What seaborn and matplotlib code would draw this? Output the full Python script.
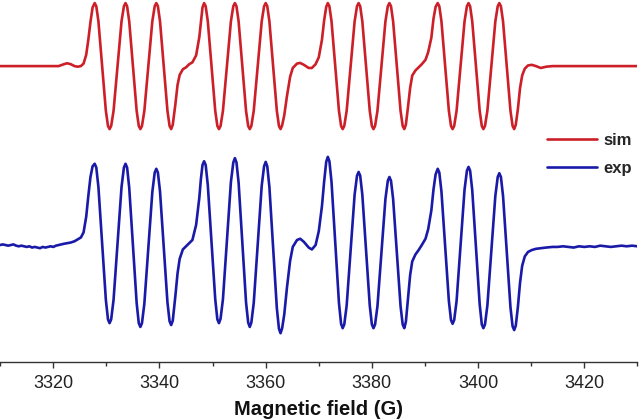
import matplotlib
matplotlib.use("Agg")
import matplotlib.pyplot as plt
import pandas as pd
import seaborn as sns
from matplotlib.ticker import MultipleLocator

# ---- data (field in G, intensity in arbitrary units) ----
field = [
    # left baseline
    3310.0, 3310.5, 3311.0, 3311.5, 3312.0, 3312.5, 3313.0, 3313.5, 3314.0, 3314.5, 3315.0,
    3315.5, 3316.0, 3316.5, 3317.0, 3317.5, 3318.0, 3318.5, 3319.0, 3319.5, 3320.0, 3320.5,
    # leading edge
    3321.0, 3322.0, 3322.6, 3323.3, 3324.0, 3324.6, 3325.2, 3325.7, 3326.2, 3326.6, 3327.0, 3327.4,
    # group A
    3327.8, 3328.1, 3328.5, 3329.2, 3329.9, 3330.3, 3330.6, 3330.9, 3331.35, 3332.1, 3332.85,
    3333.3, 3333.6, 3333.9, 3334.3, 3335.0, 3335.7, 3336.1, 3336.4, 3336.7, 3337.15, 3337.9,
    3338.65, 3339.1, 3339.4, 3339.7, 3340.1, 3340.8, 3341.5, 3341.9, 3342.2,
    # between A and B
    3342.5, 3343.0, 3343.4, 3343.8, 3344.4, 3345.0, 3345.6, 3346.2, 3346.9, 3347.5, 3347.8, 3348.1,
    # group B
    3348.4, 3348.7, 3349.1, 3349.8, 3350.5, 3350.9, 3351.2, 3351.5, 3351.95, 3352.7, 3353.45,
    3353.9, 3354.2, 3354.5, 3354.9, 3355.6, 3356.3, 3356.7, 3357.0, 3357.3, 3357.75, 3358.5,
    3359.25, 3359.7, 3360.0, 3360.3, 3360.7, 3361.4, 3362.1, 3362.5, 3362.8,
    # between B and C
    3363.1, 3363.5, 3364.0, 3364.6, 3365.1, 3365.9, 3366.5, 3367.2, 3368.1, 3368.7, 3369.4,
    3370.0, 3370.6, 3371.0, 3371.4,
    # group C
    3371.7, 3372.0, 3372.4, 3373.1, 3373.8, 3374.2, 3374.5, 3374.8, 3375.25, 3376.0, 3376.75,
    3377.2, 3377.5, 3377.8, 3378.2, 3378.9, 3379.6, 3380.0, 3380.3, 3380.6, 3381.05, 3381.8,
    3382.55, 3383.0, 3383.3, 3383.6, 3384.0, 3384.7, 3385.4, 3385.8, 3386.1,
    # between C and D
    3386.4, 3386.8, 3387.2, 3387.6, 3388.2, 3388.8, 3389.4, 3390.1, 3390.6, 3391.2, 3391.6, 3392.0,
    # group D
    3392.4, 3392.7, 3393.1, 3393.8, 3394.5, 3394.9, 3395.2, 3395.5, 3395.95, 3396.7, 3397.45,
    3397.9, 3398.2, 3398.5, 3398.9, 3399.6, 3400.3, 3400.7, 3401.0, 3401.3, 3401.75, 3402.5,
    3403.25, 3403.7, 3404.0, 3404.3, 3404.7, 3405.4, 3406.1, 3406.5, 3406.8,
    # trailing edge
    3407.1, 3407.5, 3407.9, 3408.3, 3408.8, 3409.4, 3410.1, 3410.9, 3411.8, 3412.8, 3414.0,
    # right baseline
    3415.0, 3416.0, 3417.0, 3418.0, 3419.0, 3420.0, 3421.0, 3422.0, 3423.0, 3424.0, 3425.0,
    3426.0, 3427.0, 3428.0, 3429.0, 3430.0,
]

sim = [
    0, 0, 0, 0, 0, 0, 0, 0, 0, 0, 0, 0, 0, 0, 0, 0, 0, 0, 0, 0, 0, 0,
    0.00, 0.03, 0.045, 0.03, 0.00, -0.01, 0.00, 0.04, 0.18, 0.42, 0.70, 0.93,
    1.00, 0.95, 0.71, 0.00, -0.71, -0.95, -1.00, -0.95, -0.71, 0.00, 0.71,
    0.95, 1.00, 0.95, 0.71, 0.00, -0.71, -0.95, -1.00, -0.95, -0.71, 0.00,
    0.71, 0.95, 1.00, 0.95, 0.71, 0.00, -0.71, -0.95, -1.00,
    -0.93, -0.60, -0.30, -0.14, -0.05, -0.02, 0.03, 0.06, 0.17, 0.46, 0.70, 0.93,
    1.00, 0.95, 0.71, 0.00, -0.71, -0.95, -1.00, -0.95, -0.71, 0.00, 0.71,
    0.95, 1.00, 0.95, 0.71, 0.00, -0.71, -0.95, -1.00, -0.95, -0.71, 0.00,
    0.71, 0.95, 1.00, 0.95, 0.71, 0.00, -0.71, -0.95, -1.00,
    -0.94, -0.78, -0.48, -0.17, -0.03, 0.04, 0.05, 0.02, -0.03, -0.03, 0.03,
    0.14, 0.42, 0.72, 0.94,
    1.00, 0.95, 0.71, 0.00, -0.71, -0.95, -1.00, -0.95, -0.71, 0.00, 0.71,
    0.95, 1.00, 0.95, 0.71, 0.00, -0.71, -0.95, -1.00, -0.95, -0.71, 0.00,
    0.71, 0.95, 1.00, 0.95, 0.71, 0.00, -0.71, -0.95, -1.00,
    -0.93, -0.65, -0.35, -0.15, -0.07, -0.02, 0.03, 0.10, 0.22, 0.45, 0.75, 0.94,
    1.00, 0.95, 0.71, 0.00, -0.71, -0.95, -1.00, -0.95, -0.71, 0.00, 0.71,
    0.95, 1.00, 0.95, 0.71, 0.00, -0.71, -0.95, -1.00, -0.95, -0.71, 0.00,
    0.71, 0.95, 1.00, 0.95, 0.71, 0.00, -0.71, -0.95, -1.00,
    -0.93, -0.68, -0.35, -0.15, -0.04, 0.01, 0.02, 0.00, -0.03, -0.01, 0.00,
    0, 0, 0, 0, 0, 0, 0, 0, 0, 0, 0, 0, 0, 0, 0, 0,
]

exp = [
    0.00, 0.01, 0.00, -0.01, 0.00, 0.01, -0.01, -0.02, -0.01, -0.02, -0.03,
    -0.02, -0.04, -0.03, -0.04, -0.05, -0.03, -0.04, -0.03, -0.02, -0.03, -0.01,
    0.00, 0.02, 0.03, 0.04, 0.06, 0.09, 0.12, 0.20, 0.45, 0.78, 1.08, 1.25,
    1.29, 1.23, 0.92, 0.03, -0.87, -1.18, -1.24, -1.18, -0.87, 0.03, 0.92,
    1.23, 1.29, 1.23, 0.91, 0.00, -0.92, -1.24, -1.30, -1.24, -0.93, -0.05,
    0.84, 1.15, 1.21, 1.15, 0.85, -0.03, -0.91, -1.21, -1.27,
    -1.20, -0.80, -0.45, -0.22, -0.07, -0.02, 0.03, 0.08, 0.32, 0.75, 1.05, 1.27,
    1.33, 1.27, 0.95, 0.05, -0.86, -1.18, -1.24, -1.17, -0.86, 0.07, 1.00,
    1.31, 1.38, 1.31, 0.99, 0.04, -0.91, -1.23, -1.30, -1.23, -0.92, 0.01,
    0.94, 1.25, 1.32, 1.25, 0.92, -0.04, -1.00, -1.33, -1.40,
    -1.32, -1.10, -0.68, -0.25, -0.03, 0.08, 0.10, 0.05, -0.04, -0.07, 0.00,
    0.22, 0.62, 1.00, 1.32,
    1.40, 1.33, 1.00, 0.04, -0.92, -1.25, -1.32, -1.26, -0.96, -0.08, 0.80,
    1.10, 1.16, 1.10, 0.80, -0.08, -0.96, -1.26, -1.32, -1.26, -0.97, -0.12,
    0.73, 1.02, 1.08, 1.02, 0.73, -0.12, -0.97, -1.26, -1.32,
    -1.22, -0.85, -0.48, -0.26, -0.15, -0.08, 0.00, 0.10, 0.25, 0.55, 0.88, 1.12,
    1.21, 1.15, 0.85, -0.02, -0.89, -1.19, -1.25, -1.19, -0.89, 0.00, 0.88,
    1.18, 1.24, 1.18, 0.87, -0.04, -0.94, -1.26, -1.32, -1.26, -0.96, -0.09,
    0.78, 1.08, 1.14, 1.08, 0.78, -0.10, -0.99, -1.29, -1.35,
    -1.28, -0.98, -0.60, -0.33, -0.18, -0.11, -0.08, -0.06, -0.05, -0.04, -0.03,
    -0.03, -0.02, -0.03, -0.04, -0.02, -0.03, -0.02, -0.03, -0.01, -0.02, -0.03,
    -0.02, -0.01, -0.02, -0.01, -0.02,
]

series_labels = ["sim", "exp"]
x_label = "Magnetic field (G)"

# ---- style ----
RED = "#cc1f28"
BLUE = "#1a1aa8"
SIM_OFFSET = 2.84   # vertical stacking of the simulated trace

sns.set_theme(style="white")
plt.rcParams["font.family"] = ["Liberation Sans", "DejaVu Sans"]

df = pd.DataFrame({"field": field, "sim": sim, "exp": exp})
df["sim_shifted"] = df["sim"] + SIM_OFFSET

fig = plt.figure(figsize=(6.4, 4.2), dpi=100)
ax = fig.add_axes([0.0003, 0.138, 0.9956, 0.862])

sns.lineplot(data=df, x="field", y="sim_shifted", ax=ax, color=RED, lw=1.9,
             label=series_labels[0], estimator=None, sort=False)
sns.lineplot(data=df, x="field", y="exp", ax=ax, color=BLUE, lw=1.9,
             label=series_labels[1], estimator=None, sort=False)

ax.set_xlim(3310, 3430)
ax.set_ylim(-1.857, 3.889)
ax.set_yticks([])
ax.set_ylabel("")
for s in ("left", "top", "right"):
    ax.spines[s].set_visible(False)
ax.spines["bottom"].set_color("#333333")
ax.spines["bottom"].set_linewidth(1.0)

ax.xaxis.set_major_locator(MultipleLocator(20))
ax.xaxis.set_minor_locator(MultipleLocator(10))
ax.tick_params(axis="x", which="major", direction="out", length=4, width=1,
               color="#333333", labelsize=13, labelcolor="#222222", pad=5, bottom=True)
ax.tick_params(axis="x", which="minor", direction="out", length=3, width=1,
               color="#333333", bottom=True)
ax.set_xlabel(x_label, fontsize=14.5, fontweight="bold", color="#111111", labelpad=6)

ax.legend(loc="upper left", bbox_to_anchor=(0.855, 0.683), bbox_transform=fig.transFigure,
          frameon=False, prop={"weight": "bold", "size": 12}, handlelength=3.0,
          handletextpad=0.35, labelspacing=0.75, borderpad=0, borderaxespad=0)

fig.savefig("out.png", dpi=100, facecolor="white")
